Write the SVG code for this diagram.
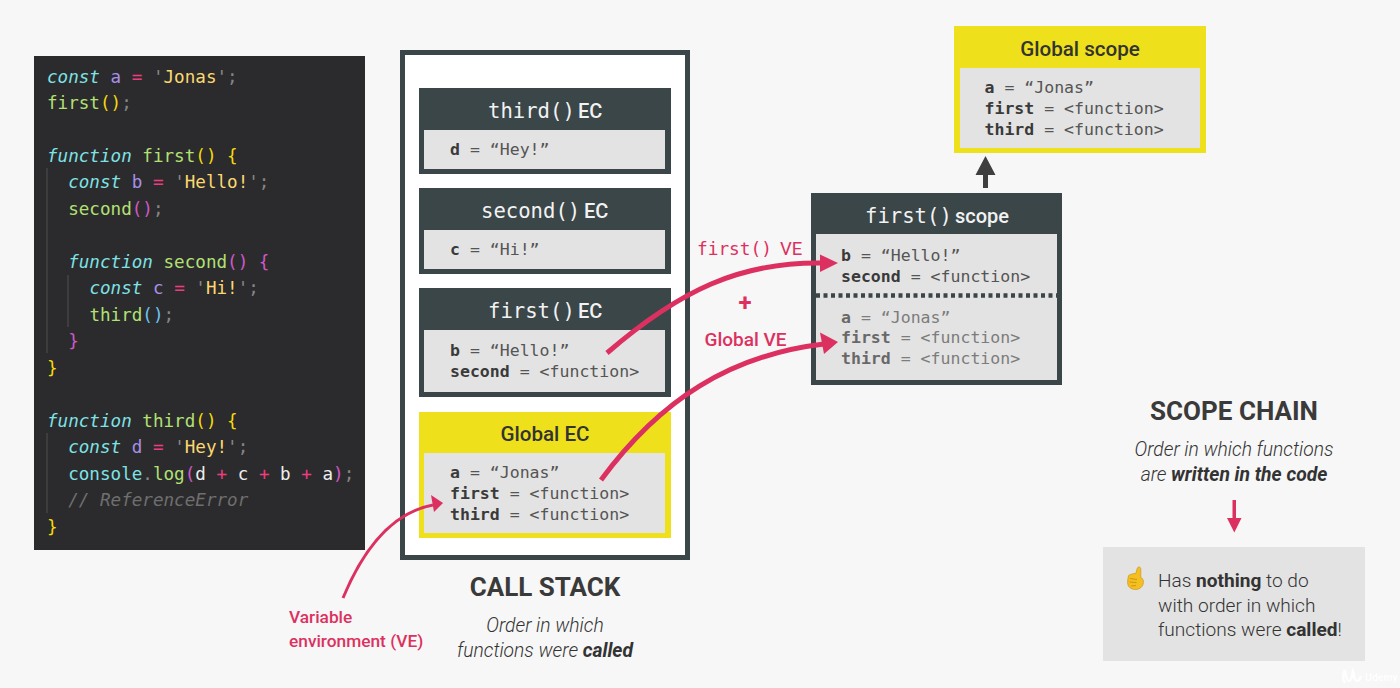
<svg xmlns="http://www.w3.org/2000/svg" width="1400" height="688" viewBox="0 0 1400 688">
<style>
.m{font-family:"DejaVu Sans Mono","Liberation Mono",monospace}
.r{font-family:Roboto,"Liberation Sans",sans-serif}
.code{font-size:17.6px;white-space:pre;fill:#b3e174}
.k{fill:#7fe3e6;font-style:italic}.v{fill:#a88fe8}.o{fill:#ee3d7f}.s{fill:#fbd970}.p{fill:#858585}.y{fill:#f5d90a}.u{fill:#cf58c8}.b{fill:#6cc4f0}.w{fill:#eee}.c{fill:#7fe3e6}
.t{fill:#6f6f6f;font-style:italic}
.dark{fill:#3b4649}.yel{fill:#eee01a}.gray{fill:#e3e3e3}
.tt{font-size:20.6px;fill:#f2f2f2;white-space:pre}
.tr{font-size:20px;fill:#f2f2f2;font-weight:500}
.ty{font-size:20.6px;fill:#333;font-weight:500;text-anchor:middle}
.e{font-size:16.55px;fill:#555;white-space:pre}
.e tspan{font-weight:700;fill:#3a3a3a}
.dim{opacity:.72}
.red{fill:#dc3160}
.h{font-size:26px;font-weight:700;fill:#3a3a3a;text-anchor:middle}
.sub{font-size:19.3px;font-weight:300;font-style:italic;fill:#333;text-anchor:middle}
.sub tspan{font-weight:700}
.n{font-size:19.1px;font-weight:300;fill:#333}
.n tspan{font-weight:700}
.guide{stroke:#444;stroke-width:1.5;fill:none}
.curve{fill:none;stroke:#dc3160}
</style>
<rect width="1400" height="688" fill="#f7f7f7"/>

<g id="code">
<rect x="34" y="56" width="331" height="494" fill="#2b2b2d"/>
<path class="guide" d="M47 168V353M68 275V327M47 433V513"/>
<g class="m code" transform="translate(0 .7)">
<text x="47" y="82"><tspan class="k">const</tspan> <tspan class="v">a</tspan> <tspan class="o">=</tspan> <tspan class="p">'</tspan><tspan class="s">Jonas</tspan><tspan class="p">';</tspan></text>
<text x="47" y="108">first<tspan class="y">()</tspan><tspan class="p">;</tspan></text>
<text x="47" y="161"><tspan class="k">function</tspan> first<tspan class="y">() {</tspan></text>
<text x="68.2" y="187"><tspan class="k">const</tspan> <tspan class="v">b</tspan> <tspan class="o">=</tspan> <tspan class="p">'</tspan><tspan class="s">Hello!</tspan><tspan class="p">';</tspan></text>
<text x="68.2" y="214">second<tspan class="u">()</tspan><tspan class="p">;</tspan></text>
<text x="68.2" y="267"><tspan class="k">function</tspan> second<tspan class="u">() {</tspan></text>
<text x="89.4" y="293"><tspan class="k">const</tspan> <tspan class="v">c</tspan> <tspan class="o">=</tspan> <tspan class="p">'</tspan><tspan class="s">Hi!</tspan><tspan class="p">';</tspan></text>
<text x="89.4" y="320">third<tspan class="b">()</tspan><tspan class="p">;</tspan></text>
<text x="68.2" y="346"><tspan class="u">}</tspan></text>
<text x="47" y="373"><tspan class="y">}</tspan></text>
<text x="47" y="426"><tspan class="k">function</tspan> third<tspan class="y">() {</tspan></text>
<text x="68.2" y="452"><tspan class="k">const</tspan> <tspan class="v">d</tspan> <tspan class="o">=</tspan> <tspan class="p">'</tspan><tspan class="s">Hey!</tspan><tspan class="p">';</tspan></text>
<text x="68.2" y="479"><tspan class="c">console</tspan><tspan class="p">.</tspan>log<tspan class="u">(</tspan><tspan class="w">d</tspan> <tspan class="o">+</tspan> <tspan class="w">c</tspan> <tspan class="o">+</tspan> <tspan class="w">b</tspan> <tspan class="o">+</tspan> <tspan class="w">a</tspan><tspan class="u">)</tspan><tspan class="p">;</tspan></text>
<text x="68.2" y="505" class="t">// ReferenceError</text>
<text x="47" y="532"><tspan class="y">}</tspan></text>
</g>
</g>

<g id="call-stack">
<rect x="402.500" y="52.500" width="285" height="505" fill="#fff" stroke="#3b4649" stroke-width="5"/>
<text class="r h" x="545" y="596">CALL STACK</text>
<text class="r sub" x="545" y="632">Order in which</text>
<text class="r sub" x="545" y="657">functions were <tspan>called</tspan></text>
</g>

<g id="third-ec">
<rect class="dark" x="419" y="88" width="252" height="86"/><rect class="gray" x="424" y="130" width="241" height="39"/>
<text class="m tt" x="488" y="118">third()</text><text class="r tr" x="578" y="118">EC</text>
<text class="m e" x="450" y="155"><tspan>d</tspan> = “Hey!”</text>
</g>
<g id="second-ec">
<rect class="dark" x="419" y="188" width="252" height="86"/><rect class="gray" x="424" y="230" width="241" height="39"/>
<text class="m tt" x="481" y="218">second()</text><text class="r tr" x="584" y="218">EC</text>
<text class="m e" x="450" y="255"><tspan>c</tspan> = “Hi!”</text>
</g>
<g id="first-ec">
<rect class="dark" x="419" y="288" width="252" height="109"/><rect class="gray" x="424" y="330" width="241" height="62"/>
<text class="m tt" x="488" y="318">first()</text><text class="r tr" x="578" y="318">EC</text>
<text class="m e" x="450" y="356"><tspan>b</tspan> = “Hello!”</text>
<text class="m e" x="450" y="377"><tspan>second</tspan> = &lt;function&gt;</text>
</g>
<g id="global-ec">
<rect class="yel" x="419" y="412" width="252" height="126"/><rect class="gray" x="424" y="453" width="241" height="80"/>
<text class="r ty" x="545" y="441">Global EC</text>
<text class="m e" x="450" y="478"><tspan>a</tspan> = “Jonas”</text>
<text class="m e" x="450" y="499"><tspan>first</tspan> = &lt;function&gt;</text>
<text class="m e" x="450" y="519.500"><tspan>third</tspan> = &lt;function&gt;</text>
</g>

<g id="global-scope">
<rect class="yel" x="954" y="26" width="252" height="127"/><rect class="gray" x="960" y="68" width="240" height="80"/>
<text class="r ty" x="1080" y="56">Global scope</text>
<text class="m e" x="984.500" y="93"><tspan>a</tspan> = “Jonas”</text>
<text class="m e" x="984.500" y="114"><tspan>first</tspan> = &lt;function&gt;</text>
<text class="m e" x="984.500" y="134.500"><tspan>third</tspan> = &lt;function&gt;</text>
</g>

<g id="first-scope">
<rect class="dark" x="811" y="193" width="251" height="192"/><rect class="gray" x="816" y="234" width="241" height="146"/>
<text class="m tt" x="865" y="223">first()</text><text class="r tr" x="955" y="223">scope</text>
<text class="m e" x="841" y="261"><tspan>b</tspan> = “Hello!”</text>
<text class="m e" x="841" y="282"><tspan>second</tspan> = &lt;function&gt;</text>
<path d="M816 295.500H1057" stroke="#3b4649" stroke-width="4.500" stroke-dasharray="4 3.500" fill="none"/>
<g class="dim">
<text class="m e" x="841" y="322.500"><tspan>a</tspan> = “Jonas”</text>
<text class="m e" x="841" y="343"><tspan>first</tspan> = &lt;function&gt;</text>
<text class="m e" x="841" y="363.500"><tspan>third</tspan> = &lt;function&gt;</text>
</g>
</g>

<g id="connectors">
<path class="curve" stroke-width="5" d="M607 353C680 290 740 262 822 263"/>
<polygon class="red" points="838,263 820,254.500 820,272"/>
<path class="curve" stroke-width="5" d="M601 480C660 400 730 355 824 344"/>
<polygon class="red" points="838,342 820,332.500 824,354"/>
<path class="curve" stroke-width="3" d="M343 598C365 545 395 512 433 505"/>
<polygon class="red" points="443,503 431,495 434,512"/>
<path fill="#3f3f3f" d="M985.500 156L995.500 175H988V188H983V175H975.500Z"/>
<path class="red" d="M1232.500 500H1236V518H1241.500L1234.300 532.500L1227 518H1232.500Z"/>
</g>

<g id="labels">
<text class="m red" font-size="17.800" x="697" y="255">first()</text><text class="r red" font-size="18.500" x="780" y="255">VE</text>
<text class="r red" font-size="24" font-weight="700" x="745" y="311" text-anchor="middle">+</text>
<text class="r red" font-size="19" font-weight="500" x="745.500" y="346" text-anchor="middle">Global VE</text>
<text class="r red" font-size="17.300" font-weight="500" x="289" y="623">Variable</text>
<text class="r red" font-size="17.300" font-weight="500" x="289" y="647">environment (VE)</text>
</g>

<g id="scope-chain">
<text class="r h" x="1234" y="420">SCOPE CHAIN</text>
<text class="r sub" x="1234" y="456">Order in which functions</text>
<text class="r sub" x="1234" y="481">are <tspan>written in the code</tspan></text>
</g>

<g id="note">
<rect x="1103" y="547" width="262" height="114" fill="#e3e3e3"/>
<path d="M1139 567c1.400 0 1.800 1 1.800 2.500v8c2 .8 2.800 2.500 2.600 5-.3 4-3.500 7-8 7-4.800 0-7.800-3-7.800-7 0-2 .3-5 1-7 2-1.500 5-2 7.200-2l1.100-4c.3-1.500.9-2.500 2.100-2.500z" fill="#f4c020" stroke="#c98a10" stroke-width=".6"/>
<path d="M1130 578.500l7 1M1129.500 582l7 .5M1131 586l5-.5" stroke="#c98a10" stroke-width=".8" fill="none"/>
<text class="r n" x="1158" y="587">Has <tspan>nothing</tspan> to do</text>
<text class="r n" x="1158" y="612">with order in which</text>
<text class="r n" x="1158" y="636">functions were <tspan>called</tspan>!</text>
</g>

<g id="watermark" opacity=".9">
<path d="M1345 683c-3-4-2-10 0-13M1345 670c1 4 1 11 4 11s3-7 4-10c1 4 1 10 4 10 2 0 3-2 4-5" fill="none" stroke="#fff" stroke-width="2.500"/>
<text class="r" x="1365" y="681" font-size="10.500" font-weight="700" fill="#fff">Udemy</text>
</g>
</svg>
